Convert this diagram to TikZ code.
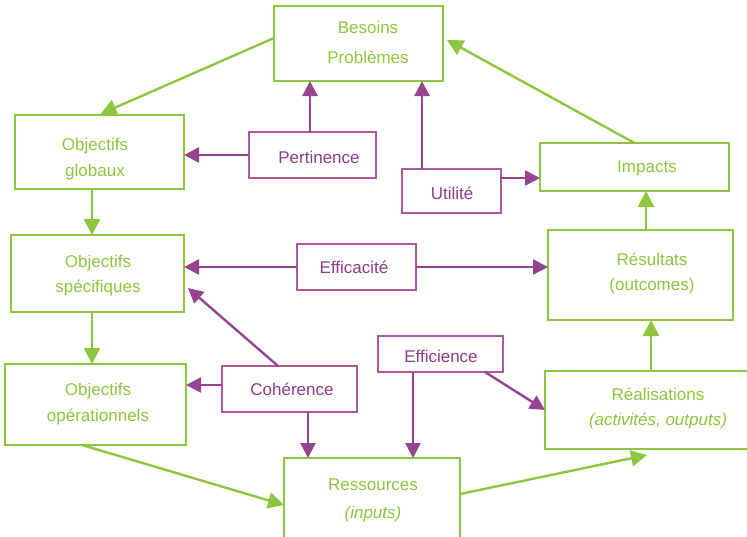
\documentclass[tikz,border=0pt]{standalone}
\usepackage{fontspec}
\setmainfont{Liberation Sans}
\usetikzlibrary{arrows.meta,calc}
\definecolor{vert}{RGB}{141,198,63}
\definecolor{violetline}{RGB}{150,68,146}
\definecolor{violetbox}{RGB}{172,88,164}
\definecolor{violettext}{RGB}{140,60,138}
\tikzset{
  gbox/.style={draw=vert, line width=2.7pt, rectangle, inner sep=0pt, outer sep=0pt, anchor=north west},
  pbox/.style={draw=violetbox, line width=2.3pt, rectangle, inner sep=0pt, outer sep=0pt, anchor=north west},
  gtxt/.style={text=vert, align=center, anchor=base, inner sep=0pt, font=\fontsize{17}{#1}\selectfont},
  gtxt/.default=26,
  ptxt/.style={text=violettext, anchor=base, inner sep=0pt, font=\fontsize{17}{20}\selectfont},
  garr/.style={draw=vert, line width=2.4pt, -{Triangle[length=16pt,width=16pt]}},
  parr/.style={draw=violetline, line width=2.4pt, -{Triangle[length=15pt,width=15pt]}},
}
\begin{document}
\begin{tikzpicture}[x=1pt,y=-1pt]
\useasboundingbox (0,0) rectangle (747,536);
% green boxes
\node[gbox, minimum width=169pt, minimum height=75pt] (bes) at (274,6) {};
\node[gbox, minimum width=169pt, minimum height=74pt] (og) at (15,115) {};
\node[gbox, minimum width=189pt, minimum height=48pt] (imp) at (540,143) {};
\node[gbox, minimum width=173pt, minimum height=77pt] (os) at (11,235) {};
\node[gbox, minimum width=185pt, minimum height=90pt] (res) at (548,230) {};
\node[gbox, minimum width=181pt, minimum height=81pt] (oo) at (5,364) {};
\node[gbox, minimum width=215pt, minimum height=78pt] (real) at (545,371) {};
\node[gbox, minimum width=176pt, minimum height=100pt] (ress) at (284,458) {};
% purple boxes
\node[pbox, minimum width=127pt, minimum height=46pt] (pert) at (249,132) {};
\node[pbox, minimum width=99pt, minimum height=44pt] (util) at (402,169) {};
\node[pbox, minimum width=119pt, minimum height=46pt] (eff) at (297,244) {};
\node[pbox, minimum width=125pt, minimum height=36pt] (effi) at (378,336) {};
\node[pbox, minimum width=135pt, minimum height=46pt] (coh) at (222,366) {};
% texts (base anchor = baseline of the last line)
\node[gtxt=30] (bes-t) at (368,63) {Besoins\\Problèmes};
\node[gtxt] (og-t) at (95,176) {Objectifs\\globaux};
\node[gtxt] (imp-t) at (647,172) {Impacts};
\node[gtxt=25] (os-t) at (98,292) {Objectifs\\spécifiques};
\node[gtxt=25] (res-t) at (652,290) {Résultats\\(outcomes)};
\node[gtxt] (oo-t) at (98,421) {Objectifs\\opérationnels};
\node[gtxt=25] (real-t) at (658,425) {Réalisations\\\textit{(activités, outputs)}};
\node[gtxt=28] (ress-t) at (373,518) {Ressources\\\textit{(inputs)}};
\node[ptxt] (pert-t) at (319,163) {Pertinence};
\node[ptxt] (util-t) at (452,199) {Utilité};
\node[ptxt] (eff-t) at (354,273) {Efficacité};
\node[ptxt] (effi-t) at (441,362) {Efficience};
\node[ptxt] (coh-t) at (292,395) {Cohérence};
% green connectors
\draw[garr] ([yshift=5.5pt]bes.west) -- ([xshift=1pt,yshift=1pt]og.north);
\draw[garr] (imp.north) -- ([xshift=4pt,yshift=3.5pt]bes.east);
\draw[garr] ([xshift=-7.5pt]og.south) -- ([xshift=-7.5pt]og.south |- os.north);
\draw[garr] ([xshift=-5.5pt]os.south) -- ([xshift=-5.5pt]os.south |- oo.north);
\draw[garr] ([xshift=5.5pt]res.north) -- ([xshift=5.5pt]res.north |- imp.south);
\draw[garr] ([xshift=-1.5pt]real.north) -- ([xshift=-1.5pt]real.north |- res.south);
\draw[garr] ([xshift=-13.5pt]oo.south) -- ([yshift=-47pt]ress.north west);
\draw[garr] ([yshift=14pt]ress.east) -- ([xshift=-5.5pt,yshift=-6pt]real.south);
% purple connectors
\draw[parr] (pert.west) -- (pert.west -| og.east);
\draw[parr] ([xshift=-2.5pt]pert.north) -- ([xshift=-2.5pt]pert.north |- bes.south);
\draw[parr] ([xshift=-29.5pt]util.north) -- ([xshift=-29.5pt]util.north |- bes.south);
\draw[parr] ([yshift=13pt]util.east) -- ([yshift=13pt]util.east -| imp.west);
\draw[parr] (eff.west) -- (eff.west -| os.east);
\draw[parr] (eff.east) -- (eff.east -| res.west);
\draw[parr] ([xshift=-11.5pt]coh.north) -- ([xshift=4pt,yshift=24pt]os.south east);
\draw[parr] ([yshift=4pt]coh.west) -- ([yshift=4pt]coh.west -| oo.east);
\draw[parr] ([xshift=18.5pt]coh.south) -- ([xshift=18.5pt]coh.south |- ress.north);
\draw[parr] ([xshift=-27.5pt]effi.south) -- ([xshift=-27.5pt]effi.south |- ress.north);
\draw[parr] ([xshift=44.5pt]effi.south) -- (real.west);
\end{tikzpicture}
\end{document}
